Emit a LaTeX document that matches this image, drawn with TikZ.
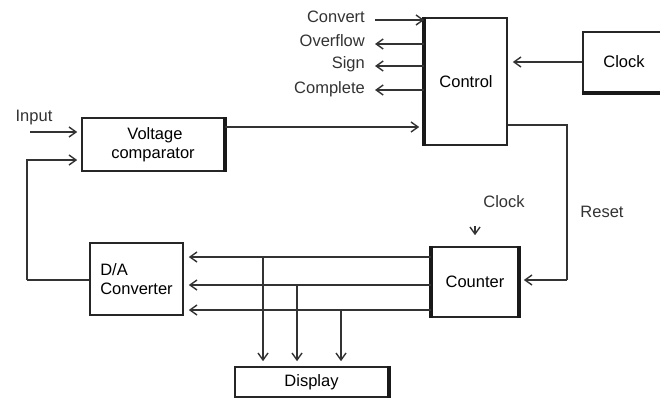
\documentclass[tikz,border=0pt]{standalone}
\usepackage{fontspec}
\setmainfont{Liberation Sans}
\usetikzlibrary{arrows.meta,positioning}
\tikzset{
  blk/.style={draw=black!85, line width=1.6pt, minimum width=#1, inner sep=0pt, font=\fontsize{16.5}{19}\selectfont},
  sig/.style={draw=black!80, line width=1.4pt, -{Straight Barb[length=7pt,width=10pt]}},
  wire/.style={draw=black!80, line width=1.4pt},
  lbl/.style={font=\fontsize{16.5}{19}\selectfont, text=black!80, inner sep=0pt},
  heavy/.style={line width=3.6pt, black!90}
}
\begin{document}
\begin{tikzpicture}[x=1pt,y=-1pt]
  \useasboundingbox[fill=white] (0,0) rectangle (660,401);
  % blocks
  \node[blk=82pt, minimum height=127pt] (ctrl) at (466,81.5) {Control};
  \node[blk=82pt, minimum height=60pt] (clk) at (624,62) {Clock};
  \node[blk=142pt, minimum height=53pt, align=center] (vcomp) at (153,144.5) {\hspace{4pt}Voltage\\comparator};
  \node[blk=93pt, minimum height=72pt, align=left] (dac) at (136.5,279) {D/A\hspace{36pt}\mbox{}\\Converter};
  \node[blk=86pt, minimum height=70pt] (cnt) at (475,282) {Counter};
  \node[blk=153pt, minimum height=30pt] (disp) at (311.5,382) {Display};
  \draw[heavy] (ctrl.north west) -- (ctrl.south west);
  \draw[heavy] (clk.south west) -- (clk.south east);
  \draw[heavy] (vcomp.north east) -- (vcomp.south east);
  \draw[heavy] (cnt.north west) -- (cnt.south west);
  \draw[heavy] (cnt.north east) -- (cnt.south east);
  \draw[heavy] (disp.north east) -- (disp.south east);
  % control signals
  \node[lbl, left=10pt] (conv) at (375,17) {Convert};
  \node[lbl, left=10pt] (ovf) at (375,41) {Overflow};
  \node[lbl, left=10pt] (sgn) at (375,64) {Sign};
  \node[lbl, left=10pt] (cmpl) at (375,89) {Complete};
  \coordinate (convs) at (375,20);
  \draw[sig] (convs) -- (ctrl.west |- convs);
  \draw[sig] (ctrl.west |- 0,44) -- (375,44);
  \draw[sig] (ctrl.west |- 0,66) -- (375,66);
  \draw[sig] (ctrl.west |- 0,90) -- (375,90);
  \draw[sig, shorten >=5pt] (clk.west) -- (ctrl.east |- clk.west);
  % input and comparator
  \coordinate (in) at (30,132);
  \node[lbl] (inlbl) at (34,118) {Input};
  \draw[sig, shorten >=4pt] (in) -- (vcomp.west |- in);
  \draw[sig, shorten >=5pt] (vcomp.east |- 0,127) -- (ctrl.west |- 0,127);
  % reset and clock to counter
  \coordinate (rst) at (567,280);
  \draw[wire] (ctrl.east |- 0,125) -| (rst);
  \draw[sig, shorten >=5pt] (rst) -- (cnt.east |- rst);
  \node[lbl] (rstlbl) at (602,212) {Reset};
  \node[lbl] (cklbl) at (504,202) {Clock};
  \coordinate (ck) at (475,226);
  \draw[sig, shorten >=11pt] (ck) -- (cnt.north);
  % counter outputs
  \foreach \yy in {257,285,310}
    \draw[sig, shorten >=5pt] (cnt.west |- 0,\yy) -- (dac.east |- 0,\yy);
  \foreach \xx/\yy in {263/257,297/285,341/310}
    \draw[sig, shorten >=5pt] (\xx,\yy) -- (\xx,0 |- disp.north);
  % feedback
  \coordinate (fb) at (27,280);
  \draw[wire] (dac.west |- fb) -- (fb);
  \draw[sig, shorten >=4pt] (fb) |- (vcomp.west |- 0,160);
\end{tikzpicture}
\end{document}
